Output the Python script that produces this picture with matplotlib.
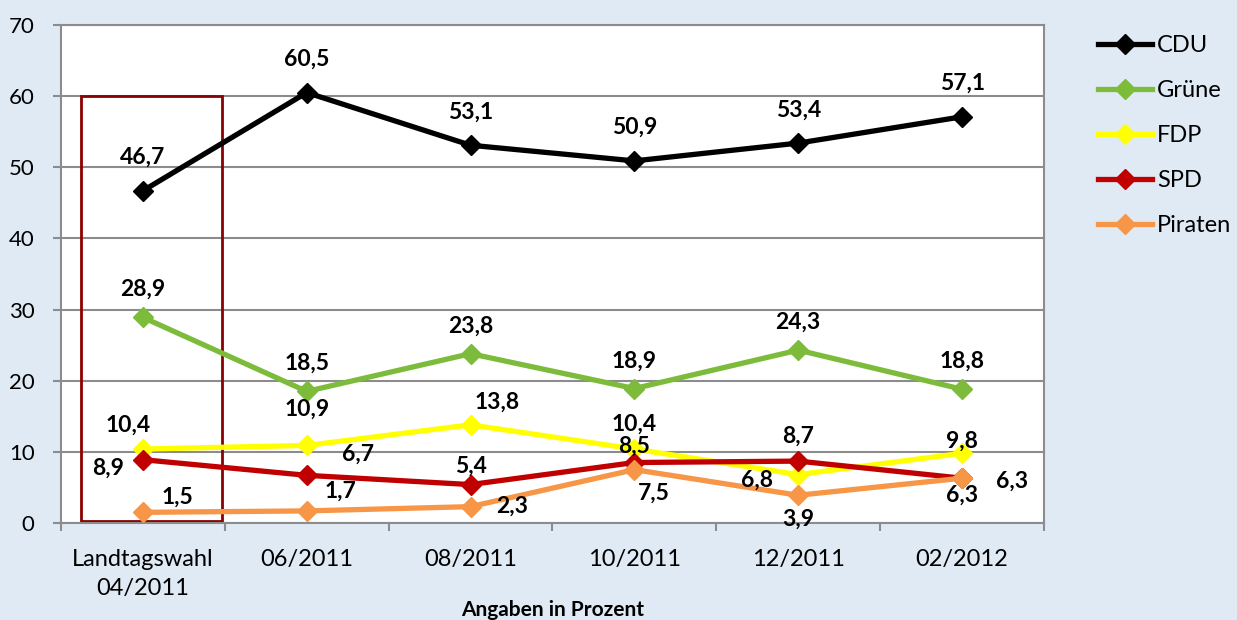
import matplotlib
matplotlib.use("Agg")
import matplotlib.pyplot as plt
from matplotlib.patches import Rectangle

plt.rcParams['font.family'] = ['Lato', 'DejaVu Sans']

categories = ["Landtagswahl\n04/2011", "06/2011", "08/2011", "10/2011", "12/2011", "02/2012"]
cdu = [46.7, 60.5, 53.1, 50.9, 53.4, 57.1]
gruene = [28.9, 18.5, 23.8, 18.9, 24.3, 18.8]
fdp = [10.4, 10.9, 13.8, 10.4, 6.8, 9.8]
spd = [8.9, 6.7, 5.4, 8.5, 8.7, 6.3]
piraten = [1.5, 1.7, 2.3, 7.5, 3.9, 6.3]
yticks = [0, 10, 20, 30, 40, 50, 60, 70]

series = [
    ("CDU", cdu, "#000000"),
    ("Grüne", gruene, "#7dbb3b"),
    ("FDP", fdp, "#ffff00"),
    ("SPD", spd, "#c00000"),
    ("Piraten", piraten, "#f79646"),
]

# label offsets in points (dx, dy) per series per point
offsets = {
    "CDU": [(0, 24)] * 6,
    "Grüne": [(0, 20)] * 6,
    "FDP": [(-11, 17), (0, 26), (19, 16), (0, 18), (-30, -4), (0, 9)],
    "SPD": [(-25, -6), (37, 15), (0, 13), (0, 12), (0, 18), (36, -2)],
    "Piraten": [(25, 11), (24, 14), (30, 0), (14, -17), (0, -17), (0, -12)],
}

bg = "#e0eaf5"
fig = plt.figure(figsize=(12.37, 6.2), dpi=100, facecolor=bg)
ax = fig.add_axes([61/1237, 1-523/620, (1044-61)/1237, (523-25)/620])
ax.set_facecolor("white")

x = list(range(len(categories)))
for name, vals, col in series:
    ax.plot(x, vals, color=col, lw=3.8, marker="D", ms=10, mec=col, mfc=col,
            label=name, zorder=3, solid_joinstyle="miter")
    for i, v in enumerate(vals):
        dx, dy = offsets[name][i]
        ax.annotate(f"{v:.1f}".replace(".", ","), (i, v), xytext=(dx, dy),
                    textcoords="offset points", ha="center", va="center",
                    fontsize=16.5, fontweight="bold", color="black", zorder=4)

ax.add_patch(Rectangle((-0.38, 0.3), 0.86, 59.7, fill=False, ec="#8b0000", lw=2, zorder=2))

ax.set_xlim(-0.5, len(categories) - 0.5)
ax.set_ylim(0, 70)
ax.set_yticks(yticks)
ax.set_yticklabels([str(t) for t in yticks], fontsize=16)
ax.yaxis.grid(True, color="#8c8c8c", lw=1.5, zorder=1)
ax.set_axisbelow(True)
ax.set_xticks(x)
ax.set_xticklabels(categories, fontsize=17, linespacing=1.45)
ax.set_xticks([i - 0.5 for i in range(len(categories) + 1)], minor=True)
ax.tick_params(axis="x", which="major", length=0, pad=19)
ax.tick_params(axis="x", which="minor", length=6, width=1.5, color="#8c8c8c", direction="out")
ax.tick_params(axis="y", length=6, width=1.5, color="#8c8c8c", pad=13)
for s in ax.spines.values():
    s.set_color("#8c8c8c")
    s.set_linewidth(1.5)
ax.set_xlabel("Angaben in Prozent", fontsize=15, fontweight="bold", labelpad=1)

leg = fig.legend(loc="upper left", bbox_to_anchor=(1098/1237, 1-35/620), frameon=False,
                 fontsize=17, handlelength=2.3, handletextpad=0.2, labelspacing=1.02,
                 borderaxespad=0, borderpad=0)

fig.savefig("out.png", dpi=100, facecolor=bg)
